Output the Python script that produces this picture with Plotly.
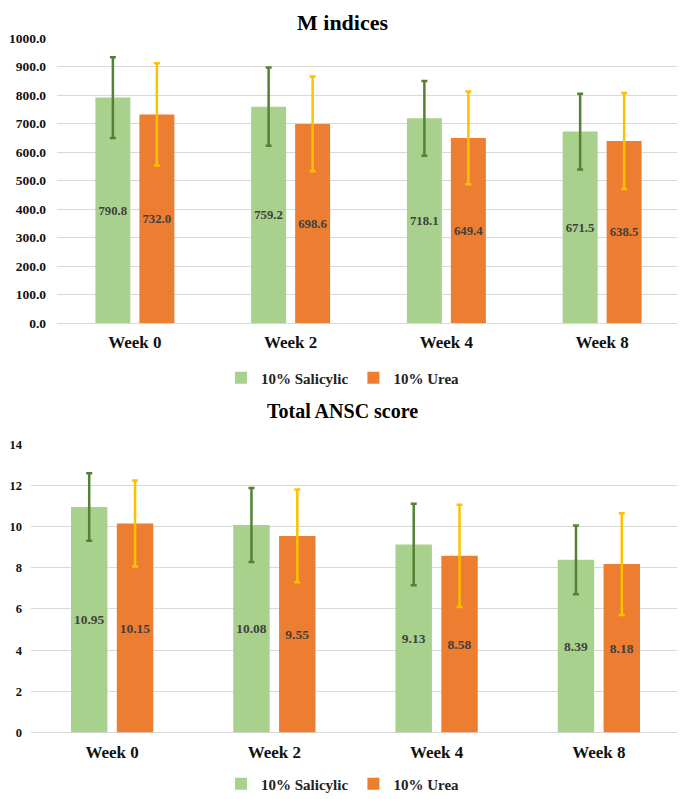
import plotly.graph_objects as go

categories = ["Week 0", "Week 2", "Week 4", "Week 8"]
series_names = ["10% Salicylic", "10% Urea"]

# M indices
m_salicylic = [790.8, 759.2, 718.1, 671.5]
m_urea = [732.0, 698.6, 649.4, 638.5]
m_salicylic_err = [141.5, 137.5, 131.0, 133.0]
m_urea_err = [179.5, 166.5, 162.5, 168.5]

# Total ANSC score
a_salicylic = [10.95, 10.08, 9.13, 8.39]
a_urea = [10.15, 9.55, 8.58, 8.18]
a_salicylic_err = [1.64, 1.80, 1.98, 1.67]
a_urea_err = [2.09, 2.25, 2.48, 2.47]

m_ticks = [0, 100, 200, 300, 400, 500, 600, 700, 800, 900, 1000]
a_ticks = [0, 2, 4, 6, 8, 10, 12, 14]

GREEN = "#A9D18E"
ORANGE = "#ED7D31"
GREEN_ERR = "#548235"
ORANGE_ERR = "#FFC000"
FONT = "Liberation Serif"

W, H = 685, 799
OFF_X = 8  # page body margin
OFF_Y = 8

def px_x(p):
    return (p - OFF_X) / W

def px_y(p):
    return 1 - (p - OFF_Y) / H

fig = go.Figure()

def add_bar(vals, errs, name, color, ecolor, xa, ya, legend, fmt):
    fig.add_trace(go.Bar(
        x=categories, y=vals, name=name,
        marker=dict(color=color, line=dict(width=0)),
        error_y=dict(type="data", array=errs, visible=True, color=ecolor,
                     thickness=2.5, width=3),
        text=[fmt.format(v) for v in vals],
        textposition="inside", insidetextanchor="middle", textangle=0,
        textfont=dict(family=FONT, size=13.5, color="#404040", weight="bold"),
        xaxis=xa, yaxis=ya, legend=legend,
    ))

add_bar(m_salicylic, m_salicylic_err, series_names[0], GREEN, GREEN_ERR, "x", "y", "legend", "{:.1f}")
add_bar(m_urea, m_urea_err, series_names[1], ORANGE, ORANGE_ERR, "x", "y", "legend", "{:.1f}")
add_bar(a_salicylic, a_salicylic_err, series_names[0], GREEN, GREEN_ERR, "x2", "y2", "legend2", "{:.2f}")
add_bar(a_urea, a_urea_err, series_names[1], ORANGE, ORANGE_ERR, "x2", "y2", "legend2", "{:.2f}")

axis_font1 = dict(family=FONT, size=13.5, color="#111111", weight="bold")
axis_font2 = dict(family=FONT, size=12.5, color="#111111", weight="bold")
cat_font = dict(family=FONT, size=17, color="#111111", weight="bold")
legend_font = dict(family=FONT, size=15, color="#222222", weight="bold")

fig.update_layout(
    width=W, height=H,
    margin=dict(l=0, r=0, t=0, b=0, autoexpand=False),
    paper_bgcolor="white", plot_bgcolor="white",
    barmode="group", bargap=0.435, bargroupgap=0.205,
    font=dict(family=FONT),
    xaxis=dict(domain=[px_x(57), px_x(680)], anchor="y", tickfont=cat_font,
               showgrid=False, ticks="", showline=False, ticklabelstandoff=7,
               automargin=False),
    yaxis=dict(domain=[px_y(323), px_y(38)], anchor="x", range=[0, 1000],
               tickvals=m_ticks, tickformat=".1f", tickfont=axis_font1,
               showgrid=True, gridcolor="#D9D9D9", gridwidth=1,
               zeroline=True, zerolinecolor="#D9D9D9", zerolinewidth=1,
               showline=False, ticklabelstandoff=10, automargin=False),
    xaxis2=dict(domain=[px_x(31), px_x(680)], anchor="y2", tickfont=cat_font,
                showgrid=False, ticks="", showline=False, ticklabelstandoff=7,
                automargin=False),
    yaxis2=dict(domain=[px_y(732.5), px_y(444.3)], anchor="x2", range=[0, 14],
                tickvals=a_ticks, tickformat="d", tickfont=axis_font2,
                showgrid=True, gridcolor="#D9D9D9", gridwidth=1,
                zeroline=True, zerolinecolor="#D9D9D9", zerolinewidth=1,
                showline=False, ticklabelstandoff=8, automargin=False),
    legend=dict(orientation="h", x=px_x(343), xanchor="center", y=px_y(378), yanchor="middle",
                font=legend_font, itemwidth=30, tracegroupgap=0,
                bgcolor="rgba(0,0,0,0)"),
    legend2=dict(orientation="h", x=px_x(343), xanchor="center", y=px_y(784), yanchor="middle",
                 font=legend_font, itemwidth=30, tracegroupgap=0,
                 bgcolor="rgba(0,0,0,0)"),
    annotations=[
        dict(text="M indices", x=px_x(342), y=1.0, xref="paper", yref="paper",
             xanchor="center", yanchor="top", showarrow=False,
             font=dict(family=FONT, size=22, color="#000000", weight="bold")),
        dict(text="Total ANSC score", x=px_x(342), y=px_y(411), xref="paper", yref="paper",
             xanchor="center", yanchor="middle", showarrow=False,
             font=dict(family=FONT, size=20, color="#000000", weight="bold")),
    ],
)

fig.write_html("out.html")
